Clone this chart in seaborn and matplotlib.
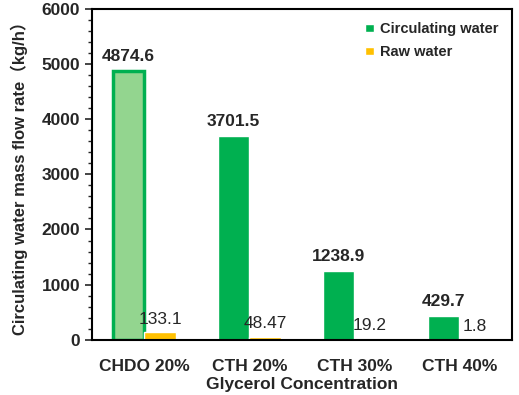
import matplotlib.pyplot as plt
import numpy as np
import pandas as pd
import seaborn as sns
from matplotlib.ticker import MultipleLocator

# %% data
categories = ["CHDO 20%", "CTH 20%", "CTH 30%", "CTH 40%"]
circulating = [4874.6, 3701.5, 1238.9, 429.7]
raw = [133.1, 48.47, 19.2, 1.8]
circ_labels = ["4874.6", "3701.5", "1238.9", "429.7"]
raw_labels = ["133.1", "48.47", "19.2", "1.8"]

df = pd.DataFrame(
    {
        "concentration": categories * 2,
        "flow": circulating + raw,
        "series": ["Circulating water"] * 4 + ["Raw water"] * 4,
    }
)

# %% plot
sns.set_style("ticks")
plt.rcParams["font.family"] = ["Liberation Sans", "Noto Sans CJK SC"]
plt.rcParams["font.weight"] = "bold"

fig, ax = plt.subplots(figsize=(5.19, 3.95), dpi=100)

sns.barplot(
    data=df,
    x="concentration",
    y="flow",
    hue="series",
    palette={"Circulating water": "#00b050", "Raw water": "#ffc000"},
    width=0.6,
    saturation=1,
    ax=ax,
)

circ_bars, raw_bars = ax.containers[0], ax.containers[1]

# first bar drawn as a light bar with a green outline
circ_bars[0].set_facecolor("#93d58f")
circ_bars[0].set_edgecolor("#00b050")
circ_bars[0].set_linewidth(2.5)
raw_bars[3].set_facecolor("#ed7d31")

ax.bar_label(circ_bars, labels=circ_labels, padding=5, fontsize=12.5, fontweight="bold")
ax.bar_label(raw_bars, labels=raw_labels, padding=4, fontsize=12.5, fontweight="medium")

ax.set_ylim(0, 6000)
ax.yaxis.set_major_locator(MultipleLocator(1000))
ax.yaxis.set_minor_locator(MultipleLocator(200))
ax.tick_params(axis="y", which="major", length=5, width=1.2, labelsize=12.5)
ax.tick_params(axis="y", which="minor", length=3, width=1)
ax.tick_params(axis="x", length=0, labelsize=12.5, pad=14)
for lab in ax.get_xticklabels() + ax.get_yticklabels():
    lab.set_fontweight("bold")

for side in ["left", "bottom", "top", "right"]:
    ax.spines[side].set_visible(True)
    ax.spines[side].set_color("black")
    ax.spines[side].set_linewidth(1.5)

ax.set_xlabel("Glycerol Concentration", fontsize=12.5, fontweight="bold", labelpad=2)
ax.set_ylabel(
    "Circulating water mass flow rate（kg/h）", fontsize=12, fontweight="bold", labelpad=10
)

ax.legend(
    loc="upper right",
    frameon=False,
    prop={"size": 10.5, "weight": "bold"},
    handlelength=0.65,
    handleheight=0.45,
    handletextpad=0.4,
    labelspacing=0.6,
    borderaxespad=0.5,
)

fig.subplots_adjust(left=0.177, right=0.986, top=0.977, bottom=0.14)
fig.savefig("out.png", dpi=100)
